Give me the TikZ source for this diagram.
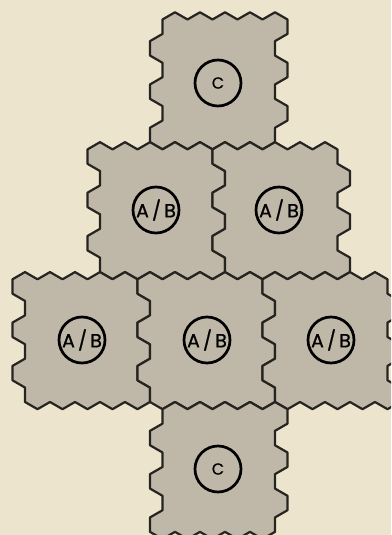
\documentclass[tikz,border=0pt]{standalone}
\usepackage{fontspec}
\setmainfont{Poppins}
\newfontfamily\badgefont{Poppins}[FakeBold=0.8]
\usepackage{xcolor}
\usepackage{tikz}

\definecolor{paper}{RGB}{237,228,206}
\definecolor{tilegrey}{RGB}{191,184,168}
\definecolor{edge}{RGB}{38,36,33}

% one tile = 6 rows of 5 hexes
% #1 first row, #2 first half-column, #3 shift of the odd rows (1 or -1)
\newcommand{\hextile}[3]{%
  \begin{scope}[shift={({175+12.5*(#2)},{26.7+21.65*(#1)})}, x=25pt, y=-25pt]
    \filldraw[tile] (-0.5,-0.2887)
      \foreach \i in {0,...,4} { -- (\i,-0.5774) -- (\i+0.5,-0.2887) }
      \foreach \r in {0,...,5} {
        -- ({4.5+0.5*(#3)*mod(\r,2)},{0.866*\r-0.2887})
        -- ({4.5+0.5*(#3)*mod(\r,2)},{0.866*\r+0.2887}) }
      \foreach \i in {4,3,...,0} {
        -- ({\i+0.5*(#3)},4.9074) -- ({\i-0.5+0.5*(#3)},4.6188) }
      \foreach \r in {5,4,...,1} {
        -- ({-0.5+0.5*(#3)*mod(\r,2)},{0.866*\r+0.2887})
        -- ({-0.5+0.5*(#3)*mod(\r,2)},{0.866*\r-0.2887}) }
      -- (-0.5,0.2887) -- cycle;
  \end{scope}}

\begin{document}
\begin{tikzpicture}[
  x=1pt, y=-1pt,
  tile/.style={fill=tilegrey, draw=edge, line width=2.2pt, line join=round},
  badge/.style={circle, draw=black, line width=2.7pt, minimum size=46pt,
                inner sep=0pt, text=black, font=\badgefont\fontsize{19}{19}\selectfont},
  cbadge/.style={badge, font=\badgefont\fontsize{16}{16}\selectfont},
]

%% ---- Frame ----
\useasboundingbox (0,0) rectangle (391,535);
\clip (0,0) rectangle (391,535);
\fill[paper] (0,0) rectangle (391,535);

%% ---- Tiles ----
\hextile{0}{0}{-1}
\hextile{6}{-6}{1}
\hextile{6}{4}{1}
\hextile{12}{-12}{1}
\hextile{12}{-2}{1}
\hextile{12}{8}{1}
\hextile{18}{0}{-1}

%% ---- Badges ----
\node[cbadge] (cTop)    at (218, 83)  {C};
\node[badge]  (abLeft)  at (156, 210) {A\,/\,B};
\node[badge]  (abRight) at (279, 210) {A\,/\,B};
\node[badge]  (abWest)  at (82,  340) {A\,/\,B};
\node[badge]  (abMid)   at (207, 340) {A\,/\,B};
\node[badge]  (abEast)  at (331, 340) {A\,/\,B};
\node[cbadge] (cBottom) at (218, 469) {C};

\end{tikzpicture}
\end{document}
